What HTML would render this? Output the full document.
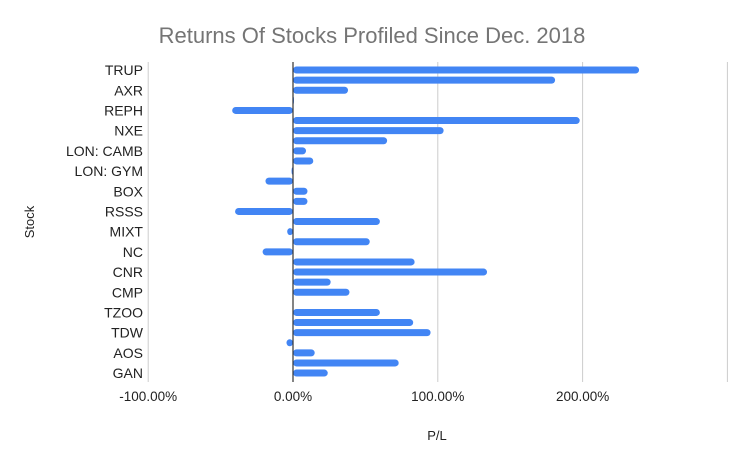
<!DOCTYPE html>
<html><head><meta charset="utf-8"><style>
html,body{margin:0;padding:0;background:#fff;}
svg text{font-family:"Liberation Sans",Arial,sans-serif;}
</style></head><body>
<svg id="chart" width="741" height="450">
<text x="372" y="43" text-anchor="middle" font-size="22" fill="#757575">Returns Of Stocks Profiled Since Dec. 2018</text>
<text transform="translate(34,222) rotate(-90)" text-anchor="middle" font-size="13" fill="#222">Stock</text>
<text x="437" y="440" text-anchor="middle" font-size="13" fill="#222">P/L</text>
<g id="grid"></g><g id="bars"></g><g id="zero"></g><g id="labels"></g>
</svg>
<script>
const categories=["TRUP","","AXR","","REPH","","NXE","","LON: CAMB","","LON: GYM","","BOX","","RSSS","","MIXT","","NC","","CNR","","CMP","","TZOO","","TDW","","AOS","","GAN"];
const values=[239,181,38,0.5,-42,198,104,65,9,14,-1,-19,10,10,-40,60,-4,53,-21,84,134,26,39,0,60,83,95,-4.5,15,73,24];
const ticks=[-100,0,100,200,300];
const tickLabels=["-100.00%","0.00%","100.00%","200.00%",""];
const NS="http://www.w3.org/2000/svg";
const xs=v=>293+v*1.448;
const rowH=10.1, plotTop=65;
const ys=i=>plotTop+rowH*i+rowH/2;
function mk(t,a,p){const e=document.createElementNS(NS,t);for(const k in a)e.setAttribute(k,a[k]);p.appendChild(e);return e;}
const g=document.getElementById('grid'),b=document.getElementById('bars'),l=document.getElementById('labels'),z=document.getElementById('zero');
ticks.forEach((t,i)=>{
 const ln=mk('line',{x1:xs(t),x2:xs(t),y1:62,y2:382,stroke:t===0?'#333':'#ccc','stroke-width':t===0?1.2:1},t===0?z:g);
 
 
 if(tickLabels[i]){const tx=mk('text',{x:xs(t),y:401,'text-anchor':'middle','font-size':13.5,fill:'#222'},l);tx.textContent=tickLabels[i];
 
 }
});
values.forEach((v,i)=>{
 if(v===0)return;
 const x0=Math.min(xs(0),xs(v)),w=Math.abs(xs(v)-xs(0));
 const r=mk('rect',{x:x0,y:ys(i)-3.5,width:Math.max(w,1),height:7,rx:3.5,fill:'#4285f4'},b);
 
 
});
categories.forEach((c,i)=>{
 if(!c)return;
 const t=mk('text',{x:143,y:ys(i)+5,'text-anchor':'end','font-size':14,fill:'#222'},l);t.textContent=c;
 
 
});
</script>
</body></html>
